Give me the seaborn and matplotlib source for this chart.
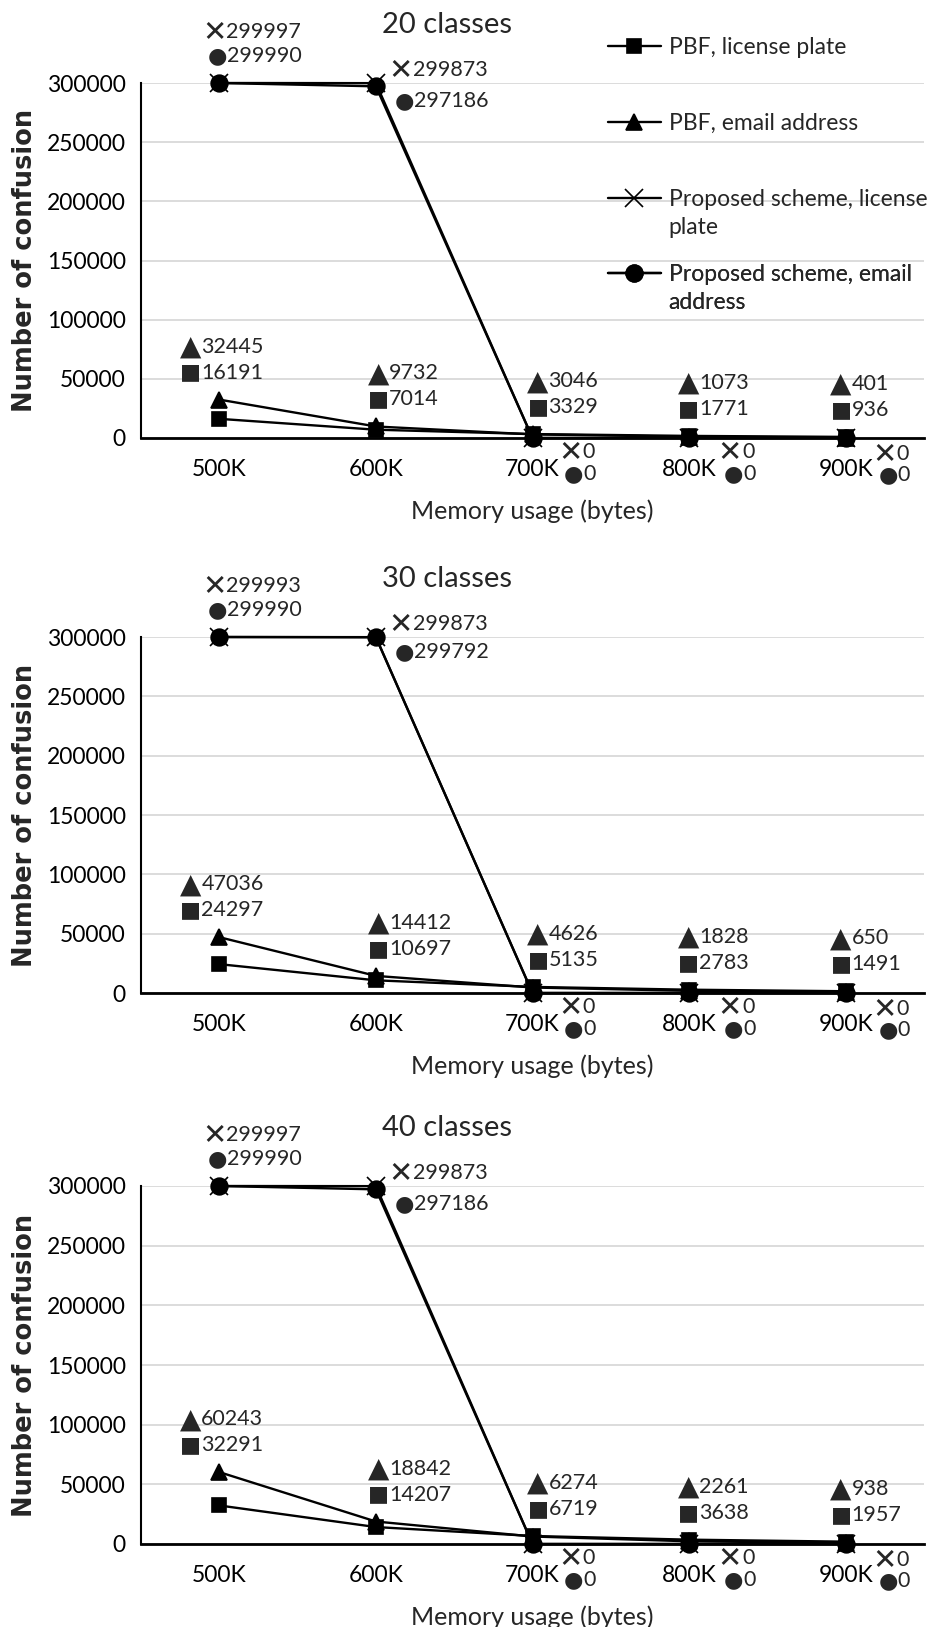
import matplotlib
matplotlib.use("Agg")
import matplotlib.pyplot as plt
from matplotlib.lines import Line2D
import numpy as np
import seaborn as sns

sns.set_style("white")
plt.rcParams["font.family"] = ["Lato", "DejaVu Sans"]

# data
memory = ["500K", "600K", "700K", "800K", "900K"]
titles = ["20 classes", "30 classes", "40 classes"]

pbf_plate_20 = [16191, 7014, 3329, 1771, 936]
pbf_email_20 = [32445, 9732, 3046, 1073, 401]
prop_plate_20 = [299997, 299873, 0, 0, 0]
prop_email_20 = [299990, 297186, 0, 0, 0]

pbf_plate_30 = [24297, 10697, 5135, 2783, 1491]
pbf_email_30 = [47036, 14412, 4626, 1828, 650]
prop_plate_30 = [299993, 299873, 0, 0, 0]
prop_email_30 = [299990, 299792, 0, 0, 0]

pbf_plate_40 = [32291, 14207, 6719, 3638, 1957]
pbf_email_40 = [60243, 18842, 6274, 2261, 938]
prop_plate_40 = [299997, 299873, 0, 0, 0]
prop_email_40 = [299990, 297186, 0, 0, 0]

panels = [
    (pbf_plate_20, pbf_email_20, prop_plate_20, prop_email_20),
    (pbf_plate_30, pbf_email_30, prop_plate_30, prop_email_30),
    (pbf_plate_40, pbf_email_40, prop_plate_40, prop_email_40),
]

series_names = ["PBF, license plate", "PBF, email address",
                "Proposed scheme, license\nplate", "Proposed scheme, email\naddress"]
markers = ["s", "^", "x", "o"]
glyphs = ["\u25a0", "\u25b2", "\u2715", "\u25cf"]
glyph_sizes = [16, 20, 21, 16]
msizes = [10, 11, 13, 12]

# label offsets in pixels (layout only)
pbf_dx = [-35, -4, -1, -7, -11]
prop_dx = [-10, 20, 33, 36, 34]
prop_x_dy = [51, 13, -14, -14, -16]
prop_o_dy = [27, -15, -36, -36, -37]

W, H = 931, 1627
fig = plt.figure(figsize=(W / 100, H / 100), dpi=100)

ax_left, ax_right = 141, 924
tops = [83, 637, 1186]
bottoms = [438, 993, 1544]

label_font = 15.5
glyph_w = 17
x = np.arange(len(memory))


def put_label(ax, s, value, xy, dx, dy):
    ax.annotate(glyphs[s], xy=xy, xytext=(dx + glyph_w, dy), textcoords="offset pixels",
                ha="right", va="center", family="DejaVu Sans", fontsize=glyph_sizes[s],
                annotation_clip=False)
    ax.annotate(str(value), xy=xy, xytext=(dx + glyph_w, dy), textcoords="offset pixels",
                ha="left", va="center", fontsize=label_font, annotation_clip=False)


for k, (plate, email, pplate, pemail) in enumerate(panels):
    top, bot = tops[k], bottoms[k]
    ax = fig.add_axes([ax_left / W, 1 - bot / H, (ax_right - ax_left) / W, (bot - top) / H])

    for vals, m, ms in zip((plate, email, pplate, pemail), markers, msizes):
        sns.lineplot(x=x, y=vals, ax=ax, color="black", lw=1.7, marker=m,
                     markersize=ms, mec="black", mfc="black", mew=1.2,
                     clip_on=False, zorder=3)

    ax.set_xlim(-0.5, len(memory) - 0.5)
    ax.set_ylim(0, 300000)
    ax.set_yticks(np.arange(0, 300001, 50000))
    ax.set_yticklabels([str(v) for v in range(0, 300001, 50000)])
    ax.set_xticks(x)
    ax.set_xticklabels(memory)
    ax.tick_params(axis="x", length=0, pad=15, labelsize=16.5, colors="black")
    ax.tick_params(axis="y", length=0, pad=11, labelsize=16.5, colors="black")

    ax.yaxis.grid(True, color="#d9d9d9", lw=1.3)
    ax.set_axisbelow(True)
    for s in ["top", "right"]:
        ax.spines[s].set_visible(False)
    ax.spines["left"].set_color("black")
    ax.spines["left"].set_linewidth(1.5)
    ax.spines["bottom"].set_color("black")
    ax.spines["bottom"].set_linewidth(2)

    ax.set_xlabel("Memory usage (bytes)", fontsize=18, va="center")
    ax.xaxis.set_label_coords(0.5, -73 / (bot - top))
    ax.set_ylabel("Number of confusion", fontsize=18.5, fontweight="bold",
                  family="DejaVu Sans", va="center")
    ax.yaxis.set_label_coords(-116 / (ax_right - ax_left), 0.5)

    ax.text(0.391, 1 + 58 / (bot - top), titles[k], transform=ax.transAxes,
            ha="center", va="center", fontsize=21)

    # data labels
    for i in range(len(memory)):
        high = max(plate[i], email[i])
        put_label(ax, 0, plate[i], (i, high), pbf_dx[i], 27)
        put_label(ax, 1, email[i], (i, high), pbf_dx[i], 53)
        put_label(ax, 2, pplate[i], (i, pplate[i]), prop_dx[i], prop_x_dy[i])
        put_label(ax, 3, pemail[i], (i, pemail[i]), prop_dx[i] + 1, prop_o_dy[i])

    if k == 0:
        legend_y = [51, 127, 203, 278]
        for name, m, ms, ly in zip(series_names, markers, msizes, legend_y):
            lines = name.split("\n")
            handle = Line2D([0], [0], color="black", lw=1.7, marker=m, markersize=ms,
                            mec="black", mfc="black", mew=1.2)
            blank = Line2D([], [], color="none")
            leg = ax.legend(handles=[handle] + [blank] * (len(lines) - 1), labels=lines,
                            loc="upper left", bbox_to_anchor=(608 / W, 1 - (ly - 14) / H),
                            bbox_transform=fig.transFigure, frameon=False, borderpad=0,
                            borderaxespad=0, handlelength=2.3, handletextpad=0.35,
                            labelspacing=0.3, fontsize=16.5)
            ax.add_artist(leg)

fig.savefig("out.png", dpi=100)
